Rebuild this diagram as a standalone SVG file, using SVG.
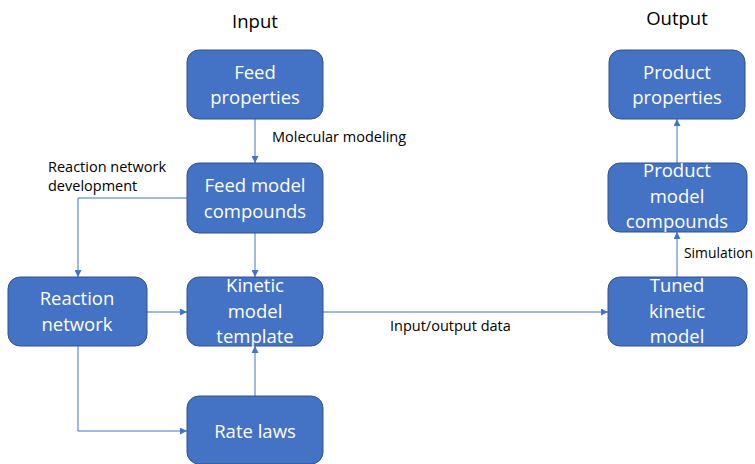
<svg xmlns="http://www.w3.org/2000/svg" width="755" height="464" viewBox="0 0 755 464">
<defs>
<style>
.box{fill:#4472C4;stroke:#2F528F;stroke-width:1}
.nt{font-family:"Open Sans","Liberation Sans",sans-serif;font-size:18.5px;fill:#ffffff;text-anchor:middle}
.lbl{font-family:"Open Sans","Liberation Sans",sans-serif;font-size:14.5px;fill:#000000}
.hd{font-family:"Open Sans","Liberation Sans",sans-serif;font-size:18.5px;fill:#000000;text-anchor:middle}
.c{fill:none;stroke:#4472C4;stroke-width:1}
</style>
<marker id="ah" viewBox="0 0 10 10" refX="10" refY="5" markerWidth="7" markerHeight="7" markerUnits="userSpaceOnUse" orient="auto">
<path d="M0,0 L10,5 L0,10 z" fill="#4472C4"/>
</marker>
</defs>
<rect width="755" height="464" fill="#ffffff"/>
<text class="hd" x="255" y="28">Input</text>
<text class="hd" x="677" y="25">Output</text>
<g id="connectors">
<path class="c" d="M255,119 V163" marker-end="url(#ah)"/>
<path class="c" d="M255,233 V277" marker-end="url(#ah)"/>
<path class="c" d="M187,198 H78 V277" marker-end="url(#ah)"/>
<path class="c" d="M147,312 H187" marker-end="url(#ah)"/>
<path class="c" d="M78,346 V431 H187" marker-end="url(#ah)"/>
<path class="c" d="M255,396 V346" marker-end="url(#ah)"/>
<path class="c" d="M323,312 H608" marker-end="url(#ah)"/>
<path class="c" d="M677,277 V232" marker-end="url(#ah)"/>
<path class="c" d="M677,163 V119" marker-end="url(#ah)"/>
</g>
<text class="lbl" x="272" y="142">Molecular modeling</text>
<text class="lbl" x="48" y="172">Reaction network</text>
<text class="lbl" x="48" y="191">development</text>
<text class="lbl" x="390" y="331">Input/output data</text>
<text class="lbl" x="684" y="258" textLength="69" lengthAdjust="spacingAndGlyphs">Simulation</text>
<g id="feed-properties">
<rect class="box" x="187" y="50" width="136" height="69" rx="12"/>
<text class="nt" x="255" y="79">Feed</text>
<text class="nt" x="255" y="104">properties</text>
</g>
<g id="feed-model-compounds">
<rect class="box" x="187" y="163" width="136" height="70" rx="12"/>
<text class="nt" x="255" y="192">Feed model</text>
<text class="nt" x="255" y="218">compounds</text>
</g>
<g id="kinetic-model-template">
<rect class="box" x="187" y="277" width="136" height="69" rx="12"/>
<text class="nt" x="255" y="292">Kinetic</text>
<text class="nt" x="255" y="318">model</text>
<text class="nt" x="255" y="343">template</text>
</g>
<g id="reaction-network">
<rect class="box" x="8" y="277" width="139" height="69" rx="12"/>
<text class="nt" x="77" y="305">Reaction</text>
<text class="nt" x="77" y="331">network</text>
</g>
<g id="rate-laws">
<rect class="box" x="187" y="396" width="136" height="68" rx="12"/>
<text class="nt" x="255" y="438">Rate laws</text>
</g>
<g id="product-properties">
<rect class="box" x="609" y="50" width="136" height="69" rx="12"/>
<text class="nt" x="677" y="79">Product</text>
<text class="nt" x="677" y="104">properties</text>
</g>
<g id="product-model-compounds">
<rect class="box" x="608" y="163" width="139" height="69" rx="12"/>
<text class="nt" x="677" y="177">Product</text>
<text class="nt" x="677" y="203">model</text>
<text class="nt" x="677" y="228">compounds</text>
</g>
<g id="tuned-kinetic-model">
<rect class="box" x="608" y="277" width="139" height="69" rx="12"/>
<text class="nt" x="677" y="292">Tuned</text>
<text class="nt" x="677" y="318">kinetic</text>
<text class="nt" x="677" y="343">model</text>
</g>
</svg>
